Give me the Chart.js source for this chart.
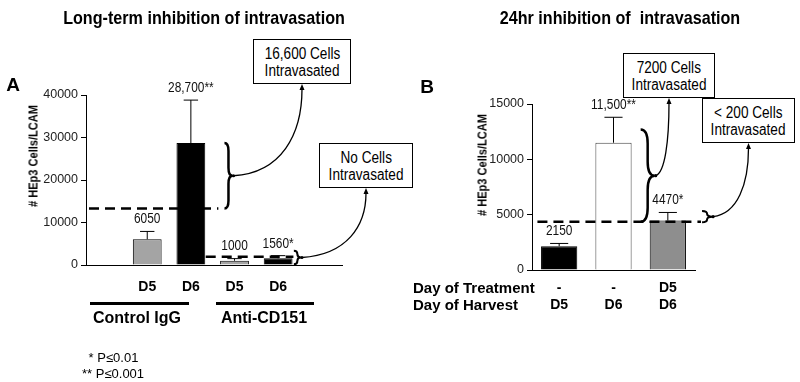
<!DOCTYPE html>
<html>
<head>
<meta charset="utf-8">
<script src="https://cdn.jsdelivr.net/npm/chart.js@4.4.0/dist/chart.umd.min.js"></script>
<style>
  body { margin: 0; background: #fff; font-family: "Liberation Sans", Arial, sans-serif; }
  #wrap { position: relative; width: 800px; height: 382px; overflow: hidden; }
  canvas { position: absolute; left: 0; top: 0; }
  .t { position: absolute; white-space: nowrap; color: #000; line-height: 1; }
  .mid { transform: translate(-50%, -50%); }
  .title { font-weight: bold; font-size: 19px; transform: translate(-50%, -50%) scaleX(.85); }
  .panel { font-weight: bold; font-size: 19px; }
  .ytitle { font-weight: bold; font-size: 13px; transform: translate(-50%, -50%) rotate(-90deg) scaleX(.85); }
  .group { font-weight: bold; font-size: 16px; }
  .row { font-weight: bold; font-size: 15px; transform: translateY(-50%); }
  .note { font-size: 13px; transform: translateY(-50%); }
  .rule { position: absolute; height: 3px; background: #000; }
  .box { position: absolute; border: 1.5px solid #000; background: #fff; box-sizing: border-box;
         display: flex; flex-direction: column; justify-content: center; align-items: center;
         font-size: 16px; line-height: 17px; }
  .box span { display: inline-block; transform: scaleX(.85); white-space: nowrap; }
</style>
</head>
<body>
<div id="wrap">
  <canvas id="chartA" width="800" height="382"></canvas>
  <canvas id="chartB" width="800" height="382"></canvas>

  <div class="t title" style="left:204px; top:17px;">Long-term inhibition of intravasation</div>
  <div class="t title" style="left:620px; top:17px;">24hr inhibition of &nbsp;intravasation</div>
  <div class="t panel mid" style="left:13px; top:84px;">A</div>
  <div class="t panel mid" style="left:427px; top:86px;">B</div>
  <div class="t ytitle" style="left:33px; top:156px;"># HEp3 Cells/LCAM</div>
  <div class="t ytitle" style="left:482px; top:165px;"># HEp3 Cells/LCAM</div>

  <div class="rule" style="left:90px; top:302px; width:99px;"></div>
  <div class="rule" style="left:216px; top:302px; width:98px;"></div>
  <div class="t group mid" style="left:137px; top:318px;">Control IgG</div>
  <div class="t group mid" style="left:264px; top:318px;">Anti-CD151</div>

  <div class="t row" style="left:413px; top:287px;">Day of Treatment</div>
  <div class="t row" style="left:413px; top:304px;">Day of Harvest</div>

  <div class="t note" style="left:85px; top:357px;">&nbsp;* P≤0.01</div>
  <div class="t note" style="left:82px; top:373px;">** P≤0.001</div>
</div>

<script>
// Panel A - long-term treatment
const daysA = ['D5', 'D6', 'D5', 'D6'];
const valuesA = [6050, 28700, 1000, 1560];
const errorTopsA = [7900, 38800, 1500, 2200];
const valueLabelsA = ['6050', '28,700**', '1000', '1560*'];
const ticksA = [0, 10000, 20000, 30000, 40000];
const cutoffsA = [13300, 1950];

// Panel B - 24hr treatment
const treatmentB = ['-', '-', 'D5'];
const harvestB = ['D5', 'D6', 'D6'];
const valuesB = [2150, 11500, 4470];
const errorTopsB = [2400, 13800, 5200];
const valueLabelsB = ['2150', '11,500**', '4470*'];
const ticksB = [0, 5000, 10000, 15000];
const cutoffsB = [4350];

// callout boxes (pixels)
const boxes = {
  a1: { lines: ['16,600 Cells', 'Intravasated'], x: 253, y: 39, w: 98, h: 45 },
  a2: { lines: ['No Cells', 'Intravasated'], x: 319, y: 143, w: 94, h: 45 },
  b1: { lines: ['7200 Cells', 'Intravasated'], x: 623, y: 53, w: 92, h: 45 },
  b2: { lines: ['< 200 Cells', 'Intravasated'], x: 702, y: 98, w: 93, h: 45 }
};

const wrap = document.getElementById('wrap');
Object.values(boxes).forEach(b => {
  const d = document.createElement('div');
  d.className = 'box';
  d.style.left = b.x + 'px'; d.style.top = b.y + 'px';
  d.style.width = b.w + 'px'; d.style.height = b.h + 'px';
  d.innerHTML = b.lines.map(l => `<span>${l.replace('<', '&lt;')}</span>`).join('');
  wrap.appendChild(d);
});

const FONT = '"Liberation Sans", Arial, sans-serif';

function errorBars(chart, tops) {
  const { ctx, scales: { y } } = chart;
  ctx.save();
  ctx.strokeStyle = '#000';
  ctx.lineWidth = 1;
  chart.getDatasetMeta(0).data.forEach((bar, i) => {
    const yt = y.getPixelForValue(tops[i]);
    const half = bar.width / 4;
    ctx.beginPath();
    ctx.moveTo(bar.x, bar.y); ctx.lineTo(bar.x, yt);
    ctx.moveTo(bar.x - half, yt); ctx.lineTo(bar.x + half, yt);
    ctx.stroke();
  });
  ctx.restore();
}

function valueLabels(chart, tops, labels) {
  const { ctx, scales: { y } } = chart;
  ctx.save();
  ctx.fillStyle = '#111';
  ctx.font = '14px ' + FONT;
  ctx.textAlign = 'center';
  ctx.textBaseline = 'middle';
  chart.getDatasetMeta(0).data.forEach((bar, i) => {
    ctx.save();
    ctx.translate(bar.x, y.getPixelForValue(tops[i]) - 12);
    ctx.scale(0.85, 1);
    ctx.fillText(labels[i], 0, 0);
    ctx.restore();
  });
  ctx.restore();
}

function dashed(ctx, x1, x2, yy) {
  ctx.save();
  ctx.strokeStyle = '#000';
  ctx.lineWidth = 2.5;
  ctx.setLineDash([10, 6]);
  ctx.beginPath(); ctx.moveTo(x1, yy); ctx.lineTo(x2, yy); ctx.stroke();
  ctx.restore();
}

// "}" shape, tip pointing right; returns the tip
function brace(ctx, x, y1, y2, w, lw) {
  const ym = (y1 + y2) / 2, xm = x + w / 2, r = Math.min(w, (y2 - y1) / 4);
  ctx.save();
  ctx.strokeStyle = '#000';
  ctx.lineWidth = lw;
  ctx.beginPath();
  ctx.moveTo(x, y1);
  ctx.quadraticCurveTo(xm, y1, xm, y1 + r);
  ctx.lineTo(xm, ym - r);
  ctx.quadraticCurveTo(xm, ym, x + w, ym);
  ctx.quadraticCurveTo(xm, ym, xm, ym + r);
  ctx.lineTo(xm, y2 - r);
  ctx.quadraticCurveTo(xm, y2, x, y2);
  ctx.stroke();
  ctx.restore();
  return { x: x + w, y: ym };
}

// curved arrow from a brace tip up to the bottom of a box
function arrowTo(ctx, from, box) {
  const p0 = [from.x + 1, from.y];
  const p1 = [box.x + box.w / 2, box.y + box.h];
  const c1 = [p0[0] + (p1[0] - p0[0]) * 0.7, p0[1] - 3];
  const c2 = [p1[0], p0[1] - (p0[1] - p1[1]) * 0.45];
  ctx.save();
  ctx.strokeStyle = '#000';
  ctx.fillStyle = '#000';
  ctx.lineWidth = 1.3;
  ctx.beginPath();
  ctx.moveTo(p0[0], p0[1]);
  ctx.bezierCurveTo(c1[0], c1[1], c2[0], c2[1], p1[0], p1[1] + 5);
  ctx.stroke();
  ctx.beginPath();
  ctx.moveTo(p1[0], p1[1]);
  ctx.lineTo(p1[0] - 2.5, p1[1] + 6);
  ctx.lineTo(p1[0] + 2.5, p1[1] + 6);
  ctx.closePath();
  ctx.fill();
  ctx.beginPath();
  ctx.arc(p0[0], p0[1], 1.6, 0, Math.PI * 2);
  ctx.fill();
  ctx.restore();
}

const annotA = {
  id: 'annotA',
  afterDatasetsDraw(chart) {
    const { ctx, scales: { x, y } } = chart;
    errorBars(chart, errorTopsA);
    valueLabels(chart, errorTopsA, valueLabelsA);

    dashed(ctx, x.left + 3, x.getPixelForValue(1.63), y.getPixelForValue(cutoffsA[0]));
    const tip1 = brace(ctx, x.getPixelForValue(1.77), y.getPixelForValue(valuesA[1]),
      y.getPixelForValue(cutoffsA[0]), 8, 2.5);
    arrowTo(ctx, tip1, boxes.a1);

    dashed(ctx, x.getPixelForValue(1.34), x.getPixelForValue(3.35), y.getPixelForValue(cutoffsA[1]));
    const tip2 = brace(ctx, x.getPixelForValue(3.36), y.getPixelForValue(3360),
      y.getPixelForValue(170), 7, 2);
    arrowTo(ctx, tip2, boxes.a2);
  }
};

const annotB = {
  id: 'annotB',
  afterDatasetsDraw(chart) {
    const { ctx, scales: { x, y } } = chart;
    errorBars(chart, errorTopsB);
    valueLabels(chart, errorTopsB, valueLabelsB);

    dashed(ctx, x.getPixelForValue(-0.4), x.getPixelForValue(2.61), y.getPixelForValue(cutoffsB[0]));
    const tip1 = brace(ctx, x.getPixelForValue(1.5), y.getPixelForValue(12700),
      y.getPixelForValue(cutoffsB[0]), 14, 2.5);
    arrowTo(ctx, tip1, boxes.b1);

    const tip2 = brace(ctx, x.getPixelForValue(2.63), y.getPixelForValue(5330),
      y.getPixelForValue(4310), 10, 2);
    arrowTo(ctx, tip2, boxes.b2);
  }
};

function yAxis(max, ticks) {
  return {
    min: 0, max: max,
    afterBuildTicks: s => { s.ticks = ticks.map(v => ({ value: v })); },
    afterFit: s => { s.width = 50; },
    grid: { drawOnChartArea: false, color: '#000', tickLength: 5 },
    border: { color: '#000', width: 1 },
    ticks: { callback: v => String(v), color: '#222', padding: 3, font: { family: FONT, size: 12.5 } }
  };
}

new Chart(document.getElementById('chartA'), {
  type: 'bar',
  data: {
    datasets: [{
      data: valuesA.map((v, i) => ({ x: i, y: v })),
      backgroundColor: ['#a4a4a4', '#000', '#a4a4a4', '#000'],
      borderColor: '#000', borderWidth: 1,
      barPercentage: 0.66, categoryPercentage: 1
    }]
  },
  options: {
    responsive: false, animation: false,
    layout: { padding: { left: 36, top: 95, right: 458, bottom: 87 } },
    plugins: { legend: { display: false }, tooltip: { enabled: false } },
    scales: {
      x: {
        type: 'linear', min: -0.67, max: 3.73,
        afterBuildTicks: s => { s.ticks = daysA.map((_, i) => ({ value: i })); },
        afterFit: s => { s.height = 30; },
        grid: { display: false, drawTicks: false },
        border: { color: '#000', width: 1 },
        ticks: { callback: v => daysA[v], autoSkip: false, maxRotation: 0, color: '#000', padding: 14,
                 font: { family: FONT, size: 14, weight: 'bold' } }
      },
      y: yAxis(40000, ticksA)
    }
  },
  plugins: [annotA]
});

new Chart(document.getElementById('chartB'), {
  type: 'bar',
  data: {
    labels: treatmentB.map((t, i) => [t, harvestB[i]]),
    datasets: [{
      data: valuesB,
      backgroundColor: ['#000', '#fff', '#8e8e8e'],
      borderColor: ['#000', '#444', '#000'], borderWidth: 1,
      barPercentage: 0.667, categoryPercentage: 1
    }]
  },
  options: {
    responsive: false, animation: false,
    layout: { padding: { left: 482, top: 104, right: 105, bottom: 67 } },
    plugins: { legend: { display: false }, tooltip: { enabled: false } },
    scales: {
      x: {
        afterFit: s => { s.height = 45; },
        grid: { display: false, drawTicks: false },
        border: { color: '#000', width: 1 },
        ticks: { autoSkip: false, maxRotation: 0, color: '#000', padding: 9,
                 font: { family: FONT, size: 14, weight: 'bold', lineHeight: 1.24 } }
      },
      y: yAxis(15000, ticksB)
    }
  },
  plugins: [annotB]
});
</script>
</body>
</html>
